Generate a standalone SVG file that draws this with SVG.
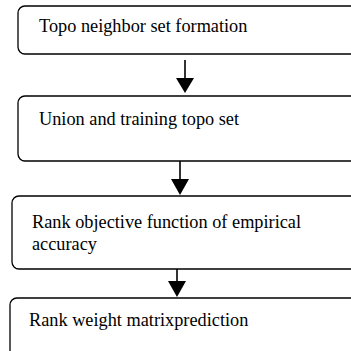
<svg xmlns="http://www.w3.org/2000/svg" width="351" height="351" viewBox="0 0 351 351">
  <style>
    .box { fill: #ffffff; stroke: #000000; stroke-width: 1.3; }
    .lbl { font-family: "Liberation Serif", "Times New Roman", serif; font-size: 18.3px; fill: #000000; }
    .conn { stroke: #000000; stroke-width: 1.6; fill: none; }
    .head { fill: #000000; }
  </style>
  <rect width="351" height="351" fill="#ffffff"/>
  <g id="connectors">
    <line class="conn" x1="185" y1="60" x2="185" y2="80"/>
    <polygon class="head" points="176,78 194,78 185,93"/>
    <line class="conn" x1="180" y1="161" x2="180" y2="181"/>
    <polygon class="head" points="171,179 189,179 180,195"/>
    <line class="conn" x1="177" y1="269" x2="177" y2="283"/>
    <polygon class="head" points="168,281 186,281 177,297"/>
  </g>
  <g id="node1">
    <rect class="box" x="18" y="6" width="360" height="48" rx="7"/>
    <text class="lbl" x="39" y="32">Topo neighbor set formation</text>
  </g>
  <g id="node2">
    <rect class="box" x="18" y="96" width="360" height="65" rx="7"/>
    <text class="lbl" x="39" y="125">Union and training topo set</text>
  </g>
  <g id="node3">
    <rect class="box" x="12" y="196" width="366" height="73" rx="7"/>
    <text class="lbl" x="32" y="228">Rank objective function of empirical</text>
    <text class="lbl" x="32" y="250">accuracy</text>
  </g>
  <g id="node4">
    <rect class="box" x="10" y="298" width="368" height="60" rx="7"/>
    <text class="lbl" x="29" y="326">Rank weight matrixprediction</text>
  </g>
</svg>
